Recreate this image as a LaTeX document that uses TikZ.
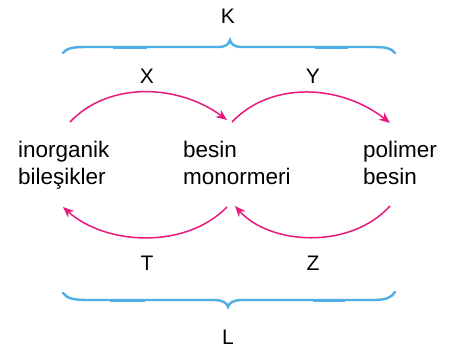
\documentclass[tikz,border=0pt]{standalone}
\usepackage{fontspec}
\setmainfont{Liberation Sans}
\usetikzlibrary{arrows.meta}
\definecolor{arrowpink}{HTML}{E8197C}
\definecolor{braceblue}{HTML}{4FAEE3}
\tikzset{
  conv/.style={draw=arrowpink, line width=1.5pt, -{Stealth[length=11pt,width=9pt]}},
  bracestyle/.style={draw=braceblue, line width=2.4pt, line cap=round},
  bracethick/.style={draw=braceblue, line width=3.0pt},
  term/.style={anchor=north west, inner sep=0pt, align=left, font=\fontsize{22.5}{27}\selectfont},
  letter/.style={anchor=base, inner sep=0pt, font=\fontsize{21}{25}\selectfont}
}
\begin{document}
\begin{tikzpicture}[x=1pt,y=-1pt]
\useasboundingbox (0,0) rectangle (451,351);
% text nodes
\node[term] (ino) at (18,140.5) {inorganik\\bileşikler};
\node[term] (mono) at (183,140.5) {besin\\monormeri};
\node[term] (poli) at (363,140.5) {polimer\\besin};
% letters
\node[letter] (K) at (228,23) {K};
\node[letter] (X) at (147,83) {X};
\node[letter] (Y) at (313,83) {Y};
\node[letter] (T) at (147,270) {T};
\node[letter] (Z) at (313,270) {Z};
\node[letter] (L) at (228,344) {L};
% arrow endpoints
\coordinate (a1) at (70,122);
\coordinate (a2) at (227,120);
\coordinate (b1) at (232,122);
\coordinate (b2) at (390,123);
\coordinate (c1) at (227,207);
\coordinate (c2) at (63,207);
\coordinate (d1) at (390,206);
\coordinate (d2) at (235,206);
\draw[conv] (a1) .. controls (110,80) and (180,85) .. (a2);
\draw[conv] (b1) .. controls (272,80) and (342,85) .. (b2);
\draw[conv] (c1) .. controls (185,250) and (105,245) .. (c2);
\draw[conv] (d1) .. controls (350,250) and (270,245) .. (d2);
% braces
\coordinate (ktip) at (230,40);
\coordinate (ltip) at (228,307);
\draw[bracestyle] (63,53) .. controls (68,47) and (75,47) .. (90,47) -- (218,47)
  .. controls (226,47) and (229,44) .. (ktip)
  .. controls (231,44) and (234,47) .. (242,47) -- (372,47)
  .. controls (386,47) and (391,48) .. (395,53);
\draw[bracestyle] (63,293) .. controls (67,299) and (75,300) .. (90,300) -- (214,300)
  .. controls (223,300) and (227,303) .. (ltip)
  .. controls (229,303) and (233,300) .. (242,300) -- (372,300)
  .. controls (386,300) and (391,298) .. (395,292);
\draw[bracethick] (113,47) -- (147,47);
\draw[bracethick] (315,47) -- (348,47);
\draw[bracethick] (110,300) -- (145,300);
\draw[bracethick] (313,300) -- (345,300);
\end{tikzpicture}
\end{document}
